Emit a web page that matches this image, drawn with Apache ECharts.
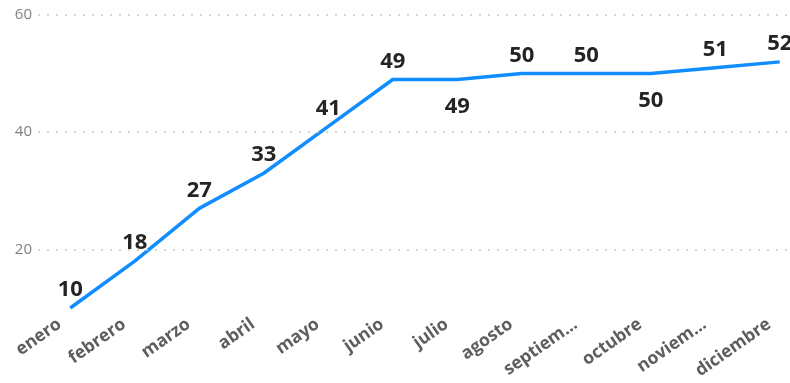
<!DOCTYPE html>
<html>
<head>
<meta charset="utf-8">
<script src="https://cdn.jsdelivr.net/npm/echarts@6/dist/echarts.min.js"></script>
<style>html,body{margin:0;padding:0;background:#fff}#c{width:790px;height:383px}</style>
</head>
<body>
<div id="c"></div>
<script>
const categories = ["enero","febrero","marzo","abril","mayo","junio","julio","agosto","septiembre","octubre","noviembre","diciembre"];
const tickLabels = ["enero","febrero","marzo","abril","mayo","junio","julio","agosto","septiem...","octubre","noviem...","diciembre"];
const values = [10,18,27,33,41,49,49,50,50,50,51,52];
const labelPos = ["top","top","top","top","top","top","bottom","top","top","bottom","top","top"];
const yTicks = [20,40,60];

const font = "'Open Sans', 'Noto Sans', sans-serif";
const chart = echarts.init(document.getElementById('c'));
chart.setOption({
  animation: false,
  grid: {left: 38, top: 15, bottom: 75, width: 774, outerBoundsMode: 'none', containLabel: false},
  xAxis: {
    type: 'category', data: categories, boundaryGap: true,
    axisLine: {show: false}, axisTick: {show: false},
    axisLabel: {interval: 0, rotate: 35, margin: 7, padding: [0, 13, 0, 0], fontSize: 17.5, fontWeight: 'bold', color: '#605E5C', fontFamily: font,
      formatter: (v, i) => tickLabels[i]}
  },
  yAxis: {
    type: 'value', min: 10, max: 60, interval: 10,
    axisLine: {show: false}, axisTick: {show: false}, splitLine: {show: false},
    axisLabel: {margin: 6, fontSize: 15, color: '#808080', fontFamily: font,
      formatter: v => yTicks.includes(v) ? String(v) : ''}
  },
  series: [{
    type: 'line', data: values.map((v, i) => ({
      value: v,
      label: labelPos[i] === 'bottom' ? {show: true, position: 'bottom', distance: 16} : {show: true, position: 'top', distance: 7}
    })),
    showSymbol: true, symbol: 'circle', symbolSize: 0.1,
    lineStyle: {color: '#118DFF', width: 3.5},
    itemStyle: {color: '#118DFF'},
    label: {show: true, fontSize: 22, fontWeight: 'bold', color: '#252423', fontFamily: font},
    markLine: {
      silent: true, symbol: 'none', label: {show: false},
      lineStyle: {type: [2, 7], color: '#c8c8c8', width: 1.5},
      data: yTicks.map(t => ({yAxis: t}))
    }
  }]
});
</script>
</body>
</html>
